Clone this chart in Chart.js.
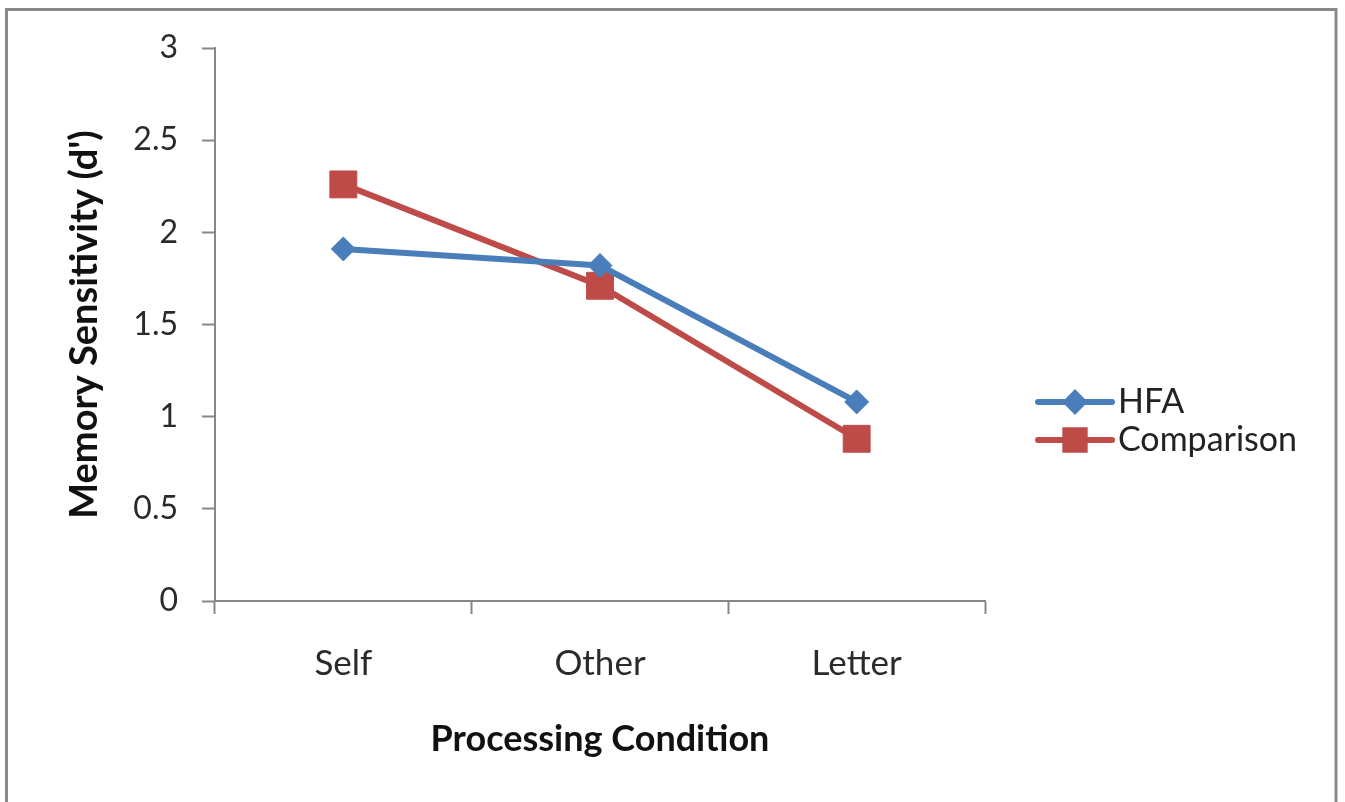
<!DOCTYPE html>
<html>
<head>
<meta charset="utf-8">
<title>Memory Sensitivity by Processing Condition</title>
<script src="https://cdn.jsdelivr.net/npm/chart.js@4/dist/chart.umd.min.js"></script>
<style>
  html, body { margin: 0; padding: 0; background: #ffffff; }
  #wrap { position: relative; width: 1345px; height: 802px; }
  canvas { display: block; }
</style>
</head>
<body>
<div id="wrap"><canvas id="chart" width="1345" height="802"></canvas></div>
<script>
// Processing conditions on the x axis
const categories = ['Self', 'Other', 'Letter'];

// Mean d' per group
const hfaValues = [1.91, 1.82, 1.08];
const comparisonValues = [2.26, 1.71, 0.88];

// Series names
const seriesNames = ['HFA', 'Comparison'];

// Y axis range and step
const yMin = 0;
const yMax = 3;
const yStep = 0.5;

const axisTitleX = 'Processing Condition';
const axisTitleY = "Memory Sensitivity (d')";

const FONT = 'Lato, "Open Sans", sans-serif';
const AXIS_GRAY = '#878787';
const BLUE = '#4A7EBB';
const RED = '#BE4B48';

// Outer frame around the whole chart
const framePlugin = {
  id: 'frame',
  beforeDraw(chart) {
    const ctx = chart.ctx;
    ctx.save();
    ctx.fillStyle = '#ffffff';
    ctx.fillRect(0, 0, chart.width, chart.height);
    ctx.strokeStyle = '#8a8a8a';
    ctx.lineWidth = 3;
    ctx.strokeRect(6.5, 9.5, chart.width - 9 - 6.5, chart.height + 20);
    ctx.restore();
  }
};

// Legend: a line segment with the series marker, then the name
const lineLegendPlugin = {
  id: 'lineLegend',
  afterDraw(chart) {
    const ctx = chart.ctx;
    const area = chart.chartArea;
    const x0 = area.right + 53;
    const lineLen = 74;
    const rowGap = 38;
    const y0 = area.top + 354;
    ctx.save();
    chart.data.datasets.forEach((ds, i) => {
      const y = y0 + i * rowGap;
      ctx.strokeStyle = ds.borderColor;
      ctx.lineWidth = ds.borderWidth;
      ctx.lineCap = 'round';
      ctx.beginPath();
      ctx.moveTo(x0, y);
      ctx.lineTo(x0 + lineLen, y);
      ctx.stroke();
      ctx.fillStyle = ds.pointBackgroundColor;
      ctx.strokeStyle = ds.pointBorderColor;
      Chart.helpers.drawPoint(ctx, {
        pointStyle: ds.pointStyle,
        radius: ds.pointRadius * 0.72,
        borderWidth: 1
      }, x0 + lineLen / 2, y);
      ctx.fillStyle = '#222222';
      ctx.font = '34px ' + FONT;
      ctx.textAlign = 'left';
      ctx.textBaseline = 'middle';
      ctx.fillText(ds.label, x0 + lineLen + 6, y);
    });
    ctx.restore();
  }
};

new Chart(document.getElementById('chart'), {
  type: 'line',
  data: {
    labels: categories,
    datasets: [
      {
        label: seriesNames[0],
        data: hfaValues,
        borderColor: BLUE,
        backgroundColor: BLUE,
        pointBackgroundColor: BLUE,
        pointBorderColor: BLUE,
        borderWidth: 6,
        pointStyle: 'rectRot',
        pointRadius: 12,
        pointBorderWidth: 1,
        tension: 0
      },
      {
        label: seriesNames[1],
        data: comparisonValues,
        borderColor: RED,
        backgroundColor: RED,
        pointBackgroundColor: RED,
        pointBorderColor: RED,
        borderWidth: 6,
        pointStyle: 'rect',
        pointRadius: 19,
        pointBorderWidth: 1,
        tension: 0
      }
    ]
  },
  options: {
    responsive: false,
    animation: false,
    events: [],
    layout: { padding: { left: 0, top: 48, right: 360, bottom: 0 } },
    plugins: {
      legend: { display: false },
      tooltip: { enabled: false }
    },
    scales: {
      x: {
        type: 'category',
        offset: true,
        afterFit(scale) { scale.height = 201; },
        grid: {
          offset: true,
          drawOnChartArea: false,
          drawTicks: true,
          tickLength: 13,
          tickColor: AXIS_GRAY,
          tickWidth: 2
        },
        border: { display: true, color: AXIS_GRAY, width: 2 },
        ticks: {
          color: '#2a2a2a',
          font: { family: FONT, size: 35 },
          padding: 29
        },
        title: {
          display: true,
          text: axisTitleX,
          color: '#111111',
          font: { family: FONT, size: 36, weight: 'bold' },
          padding: { top: 0, bottom: 41 }
        }
      },
      y: {
        min: yMin,
        max: yMax,
        afterFit(scale) { scale.width = 215; },
        grid: {
          drawOnChartArea: false,
          drawTicks: true,
          tickLength: 13,
          tickColor: AXIS_GRAY,
          tickWidth: 2
        },
        border: { display: true, color: AXIS_GRAY, width: 2 },
        ticks: {
          stepSize: yStep,
          color: '#2a2a2a',
          font: { family: FONT, size: 32 },
          padding: 24,
          callback: (value) => String(value)
        },
        title: {
          display: true,
          text: axisTitleY,
          color: '#111111',
          font: { family: FONT, size: 38, weight: 'bold' },
          padding: { top: 62, bottom: 0 }
        }
      }
    }
  },
  plugins: [framePlugin, lineLegendPlugin]
});
</script>
</body>
</html>
